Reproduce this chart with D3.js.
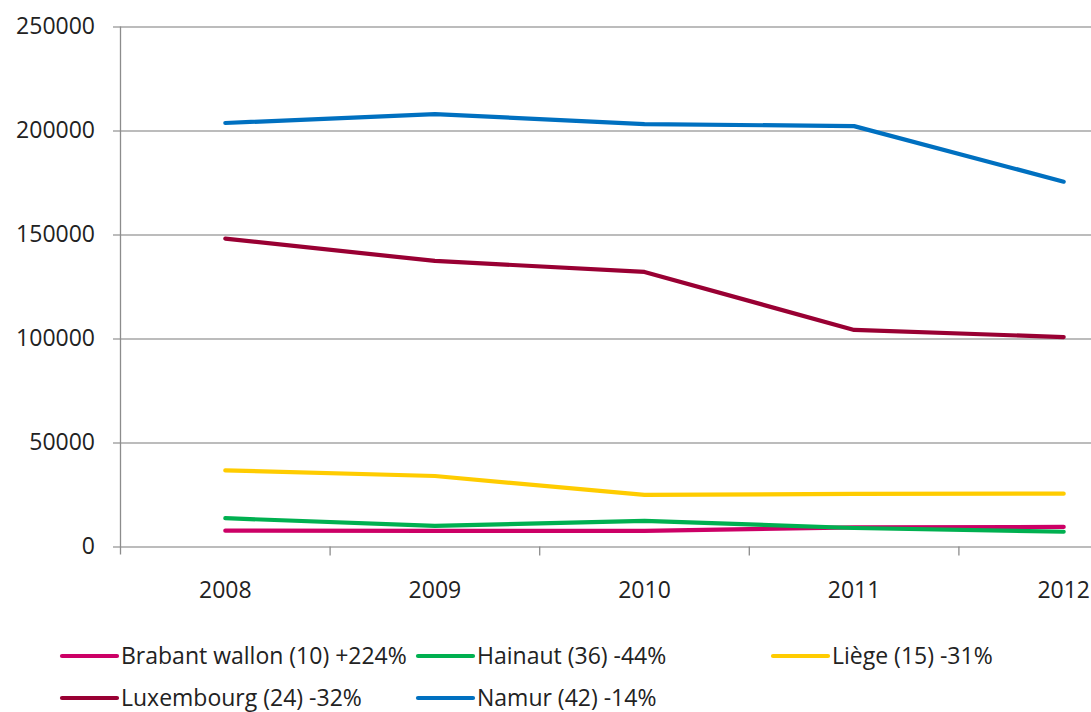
<!DOCTYPE html>
<html>
<head>
<meta charset="utf-8">
<script src="https://cdn.jsdelivr.net/npm/d3@7"></script>
<style>
  html, body { margin: 0; padding: 0; background: #fff; }
  svg { display: block; font-family: "Open Sans", "DejaVu Sans", sans-serif; }
</style>
</head>
<body>
<svg id="chart" width="1091" height="712"></svg>
<script>
// ---- data ----
const years = ["2008", "2009", "2010", "2011", "2012"];
const yTicks = [0, 50000, 100000, 150000, 200000, 250000];
const seriesNames = [
  "Brabant wallon (10) +224%",
  "Hainaut (36) -44%",
  "Liège (15) -31%",
  "Luxembourg (24) -32%",
  "Namur (42) -14%"
];
const brabantWallon = [7600, 7500, 7500, 9200, 9400];
const hainaut = [13600, 9900, 12300, 8900, 7100];
const liege = [36600, 33900, 24800, 25300, 25400];
const luxembourg = [148000, 137300, 132000, 104100, 100700];
const namur = [203600, 207900, 203100, 202100, 175400];
const seriesColors = ["#CC0066", "#00B050", "#FFCC00", "#990033", "#0070C0"];

const seriesValues = [brabantWallon, hainaut, liege, luxembourg, namur];
const series = seriesNames.map((name, i) => ({ name, color: seriesColors[i], values: seriesValues[i] }));

// ---- layout ----
const svg = d3.select("#chart");
const plotLeft = 120.5, plotTop = 26.5, plotBottom = 546.5;
const band = 209.6;
const fontSize = 23;

const x = d3.scaleBand().domain(years).range([plotLeft, plotLeft + band * years.length]).padding(0);
const y = d3.scaleLinear().domain([0, 250000]).range([plotBottom, plotTop]);

// gridlines + y labels
const yAxis = d3.axisLeft(y).tickValues(yTicks).tickFormat(d3.format("d"))
  .tickSize(-(1091 - 113)).tickPadding(18);
const gy = svg.append("g").attr("transform", "translate(113,0)").call(yAxis);
gy.select(".domain").remove();
gy.selectAll(".tick line").attr("stroke", "#a6a6a6").attr("stroke-width", 1.3);
gy.selectAll(".tick text").attr("fill", "#222").attr("font-size", fontSize).attr("font-family", "'Open Sans', sans-serif");

// vertical axis line
svg.append("line").attr("x1", plotLeft).attr("x2", plotLeft)
  .attr("y1", plotTop).attr("y2", plotBottom + 8)
  .attr("stroke", "#8c8c8c").attr("stroke-width", 1.3);

// x axis labels
const xAxis = d3.axisBottom(x).tickSize(0).tickPadding(35);
const gx = svg.append("g").attr("transform", `translate(0,${plotBottom})`).call(xAxis);
gx.select(".domain").remove();
gx.selectAll(".tick text").attr("fill", "#222").attr("font-size", fontSize).attr("font-family", "'Open Sans', sans-serif");
// x tick marks at band boundaries
svg.append("g").selectAll("line").data(years)
  .join("line")
  .attr("x1", d => x(d) + band)
  .attr("x2", d => x(d) + band)
  .attr("y1", plotBottom).attr("y2", plotBottom + 9)
  .attr("stroke", "#8c8c8c").attr("stroke-width", 1.3);

// lines
const line = d3.line()
  .x((d, i) => x(years[i]) + x.bandwidth() / 2)
  .y(d => y(d));
svg.append("g").selectAll("path").data(series).join("path")
  .attr("d", d => line(d.values))
  .attr("fill", "none")
  .attr("stroke", d => d.color)
  .attr("stroke-width", 4.2)
  .attr("stroke-linecap", "round")
  .attr("stroke-linejoin", "round");

// legend
const legendPos = [
  { x: 62, y: 656 }, { x: 418, y: 656 }, { x: 773, y: 656 },
  { x: 62, y: 698 }, { x: 418, y: 698 }
];
const lg = svg.append("g").selectAll("g").data(series).join("g")
  .attr("transform", (d, i) => `translate(${legendPos[i].x},${legendPos[i].y})`);
lg.append("line").attr("x1", 0).attr("x2", 55).attr("y1", 0).attr("y2", 0)
  .attr("stroke", d => d.color).attr("stroke-width", 4.2).attr("stroke-linecap", "round");
lg.append("text").attr("x", 59).attr("y", 0).attr("dy", "0.35em")
  .attr("font-size", fontSize).attr("fill", "#222")
  .text(d => d.name);
</script>
</body>
</html>
